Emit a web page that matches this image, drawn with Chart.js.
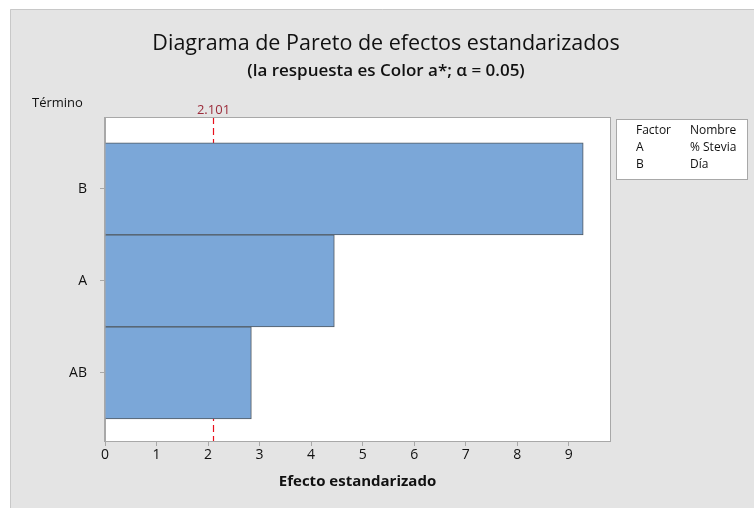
<!DOCTYPE html>
<html>
<head>
<meta charset="utf-8">
<script src="https://cdn.jsdelivr.net/npm/chart.js@4.4.1/dist/chart.umd.min.js"></script>
<style>
  html, body { margin: 0; padding: 0; background: #fff; }
  #wrap { width: 754px; height: 508px; }
</style>
</head>
<body>
<div id="wrap"><canvas id="pareto" width="754" height="508"></canvas></div>
<script>
// effects, sorted largest first (as in the Pareto chart)
const terms = ['B', 'A', 'AB'];
const effects = [9.28, 4.45, 2.84];
const xTicks = [0, 1, 2, 3, 4, 5, 6, 7, 8, 9];
const critical = 2.101;
const factorCodes = ['A', 'B'];
const factorNames = ['% Stevia', 'Día'];

const FONT = "'Open Sans', 'Noto Sans', sans-serif";

const decor = {
  id: 'decor',
  beforeDraw(chart) {
    const ctx = chart.ctx;
    const a = chart.chartArea;
    ctx.save();
    // outer panel
    ctx.fillStyle = '#ffffff';
    ctx.fillRect(0, 0, chart.width, chart.height);
    ctx.fillStyle = '#e4e4e4';
    ctx.fillRect(10, 9, chart.width - 10, chart.height - 9);
    ctx.strokeStyle = '#c8c8c8';
    ctx.lineWidth = 1;
    ctx.beginPath();
    ctx.moveTo(10.5, chart.height);
    ctx.lineTo(10.5, 9.5);
    ctx.lineTo(chart.width, 9.5);
    ctx.stroke();
    // plot area
    ctx.fillStyle = '#ffffff';
    ctx.fillRect(a.left, a.top, a.right - a.left, a.bottom - a.top);
    ctx.restore();
  },
  beforeDatasetsDraw(chart) {
    // critical value line sits behind the bars
    const ctx = chart.ctx;
    const a = chart.chartArea;
    const cx = Math.round(chart.scales.x.getPixelForValue(critical)) + 0.5;
    ctx.save();
    ctx.strokeStyle = '#e8101c';
    ctx.lineWidth = 1.2;
    ctx.setLineDash([7, 4]);
    ctx.beginPath();
    ctx.moveTo(cx, a.top - 1);
    ctx.lineTo(cx, a.bottom);
    ctx.stroke();
    ctx.restore();
  },
  afterDraw(chart) {
    const ctx = chart.ctx;
    const a = chart.chartArea;
    const xs = chart.scales.x;
    ctx.save();
    ctx.strokeStyle = '#a8a8a8';
    ctx.lineWidth = 1;
    ctx.strokeRect(a.left - 0.5, a.top - 0.5, a.right - a.left + 1, a.bottom - a.top + 1);

    // titles
    ctx.fillStyle = '#111';
    ctx.textAlign = 'center';
    ctx.textBaseline = 'middle';
    ctx.font = '21.5px ' + FONT;
    ctx.fillText('Diagrama de Pareto de efectos estandarizados', 386, 44);
    ctx.font = '600 17px ' + FONT;
    ctx.fillText('(la respuesta es Color a*; α = 0.05)', 386, 71);

    ctx.textAlign = 'left';
    ctx.font = '13px ' + FONT;
    ctx.fillText('Término', 32, 103);

    const cx = Math.round(xs.getPixelForValue(critical)) + 0.5;
    ctx.fillStyle = '#9b2b3a';
    ctx.textAlign = 'center';
    ctx.font = '13px ' + FONT;
    ctx.fillText(critical.toFixed(3), cx, 110);

    // factor legend box
    ctx.fillStyle = '#ffffff';
    ctx.fillRect(616, 119, 132, 61);
    ctx.strokeStyle = '#a8a8a8';
    ctx.strokeRect(616.5, 119.5, 131, 60);
    ctx.fillStyle = '#111';
    ctx.textAlign = 'left';
    ctx.font = '12px ' + FONT;
    ctx.fillText('Factor', 636, 131);
    ctx.fillText('Nombre', 690, 131);
    factorCodes.forEach((c, i) => {
      ctx.fillText(c, 636, 148 + i * 17);
      ctx.fillText(factorNames[i], 690, 148 + i * 17);
    });
    ctx.restore();
  }
};

new Chart(document.getElementById('pareto'), {
  type: 'bar',
  data: {
    datasets: [{
      data: effects.map((v, i) => ({ x: v, y: i })),
      backgroundColor: '#7ba7d8',
      borderColor: '#505860',
      borderWidth: 1,
      barPercentage: 1,
      categoryPercentage: 1
    }]
  },
  options: {
    indexAxis: 'y',
    responsive: false,
    animation: false,
    layout: { padding: { left: 0, top: 118, right: 144, bottom: 17 } },
    plugins: { legend: { display: false }, tooltip: { enabled: false } },
    scales: {
      x: {
        type: 'linear',
        min: 0,
        max: 9.8,
        afterBuildTicks: s => { s.ticks = xTicks.map(v => ({ value: v })); },
        ticks: { color: '#111', font: { family: FONT, size: 14 }, padding: 1, maxRotation: 0 },
        grid: { drawOnChartArea: false, color: '#a8a8a8', tickLength: 5 },
        border: { color: '#a8a8a8' },
        title: {
          display: true,
          text: 'Efecto estandarizado',
          color: '#111',
          font: { family: FONT, size: 15, weight: 'bold' },
          padding: { top: 0, bottom: 0 }
        },
        afterFit: s => { s.height = 50; }
      },
      y: {
        type: 'linear',
        reverse: true,
        offset: false,
        min: -0.77,
        max: 2.74,
        afterBuildTicks: s => { s.ticks = terms.map((t, i) => ({ value: i })); },
        ticks: {
          color: '#111',
          font: { family: FONT, size: 14 },
          padding: 13,
          callback: v => terms[v]
        },
        grid: { offset: false, drawOnChartArea: false, color: '#a8a8a8', tickLength: 5 },
        border: { color: '#a8a8a8' },
        afterFit: s => { s.width = 105; }
      }
    }
  },
  plugins: [decor]
});
</script>
</body>
</html>
